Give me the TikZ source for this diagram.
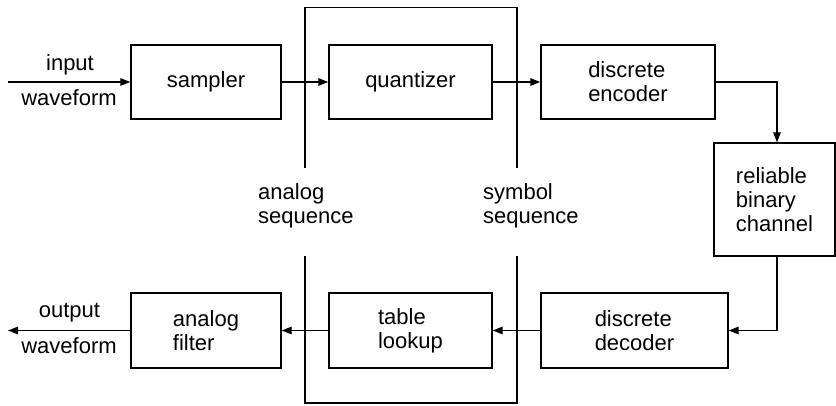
\documentclass[tikz,border=0pt]{standalone}
\usepackage{fontspec}
\setmainfont{Liberation Sans}
\usetikzlibrary{arrows.meta}
\begin{document}
\begin{tikzpicture}[x=1pt,y=-1pt,
  txt/.style={font=\fontsize{22}{24}\selectfont},
  blk/.style={txt, draw, line width=1.4pt, inner sep=0pt, align=left},
  lbl/.style={txt, inner sep=0pt, align=left},
  arr/.style={line width=1.4pt, -{Triangle[length=10pt,width=7.5pt]}},
  ln/.style={line width=1.4pt}]
\useasboundingbox (0,0) rectangle (836,405);
% blocks
\node[blk, minimum width=150pt, minimum height=74pt] (sampler) at (206,82) {sampler};
\node[blk, minimum width=163pt, minimum height=74pt] (quant) at (410.5,82) {quantizer};
\node[blk, minimum width=174pt, minimum height=74pt] (enc) at (628,82) {discrete\\encoder};
\node[blk, minimum width=121pt, minimum height=113pt] (chan) at (774.5,199.5) {reliable\\binary\\channel};
\node[blk, minimum width=187pt, minimum height=75pt] (dec) at (634.5,330.5) {discrete\\decoder};
\node[blk, minimum width=163pt, minimum height=75pt] (table) at (410.5,330.5) {table\\lookup};
\node[blk, minimum width=150pt, minimum height=75pt] (filter) at (206,330.5) {analog\\filter};
% brackets
\draw[ln] (305,168) -- (305,7.5) -- (517,7.5) -- (517,168);
\draw[ln] (305,256) -- (305,403) -- (517,403) -- (517,256);
% labels
\node[lbl, anchor=base] (in1) at (70,70) {input};
\node[lbl, anchor=base] (in2) at (69,105) {waveform};
\node[lbl, anchor=base] (out1) at (69.5,317) {output};
\node[lbl, anchor=base] (out2) at (69,353) {waveform};
\node[lbl, anchor=base west] (aseq) at (258,223) {analog\\sequence};
\node[lbl, anchor=base west] (sseq) at (483,223) {symbol\\sequence};
% connectors
\coordinate (src) at (8,82);
\coordinate (snk) at (8,330.5);
\coordinate (c1) at (777,82);
\coordinate (c2) at (777,330.5);
\draw[arr] (src) -- (sampler.west);
\draw[arr] (sampler.east) -- (quant.west);
\draw[arr] (quant.east) -- (enc.west);
\draw[arr] (enc.east) -- (c1) -- (c1 |- chan.north);
\draw[arr] (c1 |- chan.south) -- (c2) -- (dec.east);
\draw[arr] (dec.west) -- (table.east);
\draw[arr] (table.west) -- (filter.east);
\draw[arr] (filter.west) -- (snk);
\end{tikzpicture}
\end{document}
